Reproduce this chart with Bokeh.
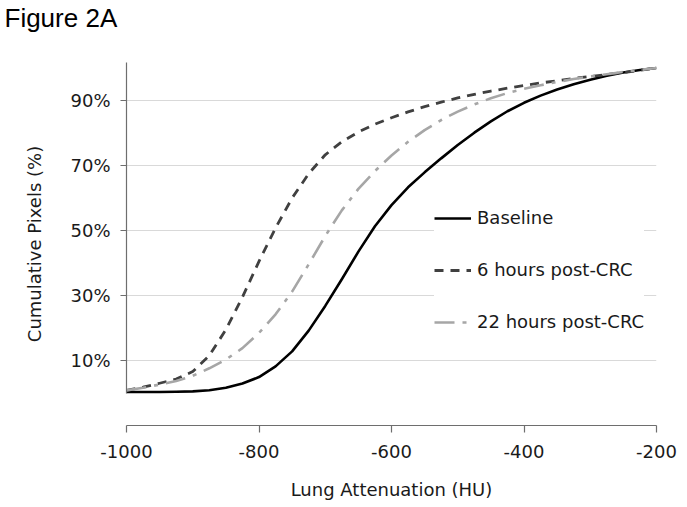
from bokeh.plotting import figure
from bokeh.models import Range1d, FixedTicker, CustomJSTickFormatter, Title
from bokeh.embed import file_html
from bokeh.resources import INLINE

hu = [-1000, -975, -950, -925, -900, -875, -850, -825, -800, -775, -750, -725,
      -700, -675, -650, -625, -600, -575, -550, -525, -500, -475, -450, -425,
      -400, -375, -350, -325, -300, -275, -250, -225, -200]

baseline = [0.3, 0.3, 0.32, 0.37, 0.5, 0.85, 1.6, 2.9, 4.9, 8.2, 12.8, 19.2,
            26.8, 35.0, 43.5, 51.3, 57.8, 63.3, 67.9, 72.2, 76.3, 80.1, 83.6, 86.7,
            89.3, 91.5, 93.4, 95.0, 96.4, 97.6, 98.6, 99.4, 100.0]

hours6 = [0.8, 1.8, 3.0, 4.3, 6.6, 11.5, 19.5, 29.5, 40.5, 50.8, 60.0, 67.5,
          73.3, 77.3, 80.3, 82.7, 84.7, 86.5, 88.1, 89.5, 90.8, 91.9, 92.9, 93.8,
          94.6, 95.4, 96.1, 96.8, 97.4, 98.0, 98.6, 99.3, 100.0]

hours22 = [0.8, 1.6, 2.6, 3.7, 5.3, 7.6, 10.3, 13.8, 18.5, 24.2, 31.2, 39.6,
           48.3, 56.2, 62.8, 68.3, 73.1, 77.3, 80.9, 84.0, 86.6, 88.8, 90.7, 92.3,
           93.6, 94.7, 95.7, 96.6, 97.4, 98.1, 98.8, 99.4, 100.0]

series_names = ["Baseline", "6 hours post-CRC", "22 hours post-CRC"]
y_ticks = [10, 30, 50, 70, 90]
x_ticks = [-1000, -800, -600, -400, -200]

FONT = "DejaVu Sans"

p = figure(width=687, height=507, output_backend="svg", toolbar_location=None,
           x_range=Range1d(-1000, -200), y_range=Range1d(-10, 101.7),
           min_border_left=126, min_border_right=31, min_border_top=62,
           min_border_bottom=82)
p.outline_line_color = None
p.background_fill_color = "white"

p.line(hu, baseline, line_color="black", line_width=2.6, line_join="round",
       legend_label=series_names[0])
p.line(hu, hours6, line_color="#404040", line_width=2.8, line_dash="9 7",
       line_join="round", legend_label=series_names[1])
p.line(hu, hours22, line_color="#a6a6a6", line_width=2.6, line_dash="20 8 4 8",
       line_join="round", legend_label=series_names[2])

# axes
p.xaxis.ticker = FixedTicker(ticks=x_ticks)
p.yaxis.ticker = FixedTicker(ticks=y_ticks)
p.xaxis.formatter = CustomJSTickFormatter(code="return String(tick);")
p.yaxis.formatter = CustomJSTickFormatter(code="return tick + '%';")
p.yaxis.bounds = (0, 101.7)
for ax in (p.xaxis[0], p.yaxis[0]):
    ax.axis_line_color = "#6e6e6e"
    ax.axis_line_width = 1.2
    ax.major_tick_line_color = "#6e6e6e"
    ax.major_tick_line_width = 1.2
    ax.major_tick_in = 0
    ax.minor_tick_line_color = None
    ax.major_label_text_font = FONT
    ax.major_label_text_font_size = "18px"
    ax.major_label_text_color = "#1a1a1a"
    ax.axis_label_text_font = FONT
    ax.axis_label_text_font_size = "18px"
    ax.axis_label_text_font_style = "normal"
    ax.axis_label_text_color = "#1a1a1a"
p.xaxis.major_tick_out = 7
p.yaxis.major_tick_out = 6
p.xaxis.major_label_standoff = 12
p.yaxis.major_label_standoff = 10
p.xaxis.axis_label = "Lung Attenuation (HU)"
p.yaxis.axis_label = "Cumulative Pixels (%)"
p.xaxis.axis_label_standoff = 18
p.yaxis.axis_label_standoff = 22

p.xgrid.grid_line_color = None
p.ygrid.grid_line_color = "#d9d9d9"
p.ygrid.grid_line_width = 1

# legend
lg = p.legend[0]
lg.location = (308, 93)
lg.border_line_color = None
lg.background_fill_color = "white"
lg.background_fill_alpha = 1.0
lg.padding = 10
lg.margin = 0
lg.spacing = 31
lg.glyph_width = 37
lg.glyph_height = 20
lg.label_height = 20
lg.label_standoff = 6
lg.label_text_font = FONT
lg.label_text_font_size = "18px"
lg.label_text_color = "#1a1a1a"

# spacer panel next to the frame, then the figure title above it
spacer = Title(text=" ", text_font_size="1px", standoff=27)
p.add_layout(spacer, "above")
title = Title(text="Figure 2A", align="left", offset=-122, standoff=0,
              vertical_align="bottom",
              text_font="Liberation Sans", text_font_size="26px",
              text_font_style="normal", text_color="black")
p.add_layout(title, "above")

open("out.html", "w").write(file_html(p, INLINE))
